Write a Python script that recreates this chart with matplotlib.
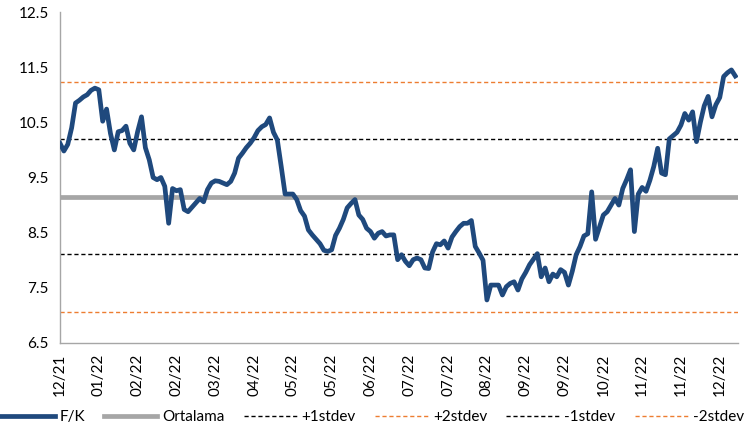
import numpy as np
import matplotlib.pyplot as plt

plt.rcParams['font.family'] = ['Lato', 'DejaVu Sans']

# F/K (günlük, ~175 gözlem)
fk = [10.12, 9.98, 10.10, 10.40, 10.85, 10.90, 10.96, 11.00, 11.08, 11.12,
      11.09, 10.52, 10.74, 10.30, 10.00, 10.33, 10.35, 10.43, 10.12, 10.00,
      10.33, 10.60, 10.04, 9.82, 9.50, 9.46, 9.50, 9.34, 8.67, 9.30,
      9.26, 9.28, 8.92, 8.88, 8.96, 9.04, 9.12, 9.06, 9.28, 9.40,
      9.44, 9.43, 9.40, 9.37, 9.43, 9.58, 9.85, 9.94, 10.04, 10.12,
      10.22, 10.35, 10.42, 10.46, 10.58, 10.32, 10.18, 9.70, 9.20, 9.20,
      9.20, 9.10, 8.90, 8.80, 8.55, 8.46, 8.38, 8.30, 8.18, 8.16,
      8.19, 8.45, 8.58, 8.74, 8.95, 9.03, 9.10, 8.82, 8.74, 8.58,
      8.52, 8.40, 8.49, 8.52, 8.44, 8.46, 8.46, 8.01, 8.10, 7.98,
      7.90, 8.01, 8.04, 8.01, 7.86, 7.85, 8.15, 8.30, 8.28, 8.35,
      8.22, 8.42, 8.52, 8.61, 8.67, 8.67, 8.72, 8.25, 8.13, 8.00,
      7.28, 7.55, 7.55, 7.55, 7.37, 7.52, 7.58, 7.61, 7.46, 7.66,
      7.78, 7.92, 8.02, 8.12, 7.70, 7.86, 7.61, 7.75, 7.70, 7.83,
      7.78, 7.55, 7.80, 8.10, 8.25, 8.44, 8.48, 9.24, 8.38, 8.60,
      8.82, 8.88, 9.00, 9.12, 9.00, 9.30, 9.46, 9.64, 8.52, 9.20,
      9.32, 9.25, 9.45, 9.70, 10.03, 9.58, 9.55, 10.20, 10.26, 10.32,
      10.45, 10.66, 10.54, 10.69, 10.15, 10.50, 10.80, 10.97, 10.60, 10.82,
      10.95, 11.33, 11.40, 11.45, 11.34]

ortalama = 9.15
std = 1.04

tick_labels = ['12/21', '01/22', '02/22', '02/22', '03/22', '04/22', '05/22', '05/22',
               '06/22', '07/22', '07/22', '08/22', '09/22', '09/22', '10/22', '11/22',
               '11/22', '12/22']
tick_step = 10

x = np.arange(len(fk))

fig = plt.figure(figsize=(7.45, 4.26), dpi=100)
ax = fig.add_axes([60 / 745, 1 - 343 / 426, 678 / 745, 331 / 426])

ax.plot(x, fk, color='#1F497D', lw=3.4, label='F/K', zorder=5, solid_joinstyle='round')
ax.axhline(ortalama, color='#A6A6A6', lw=3.4, label='Ortalama', zorder=3)
ax.axhline(ortalama + std, color='black', lw=1.0, ls=(0, (3, 2)), label='+1stdev')
ax.axhline(ortalama + 2 * std, color='#ED7D31', lw=1.0, ls=(0, (3, 2)), label='+2stdev')
ax.axhline(ortalama - std, color='black', lw=1.0, ls=(0, (3, 2)), label='-1stdev')
ax.axhline(ortalama - 2 * std, color='#ED7D31', lw=1.0, ls=(0, (3, 2)), label='-2stdev')

ax.set_xlim(0, 174.7)
ax.set_ylim(6.5, 12.5)
ax.set_yticks(np.arange(6.5, 12.6, 1.0))
ax.set_yticklabels([f'{v:.1f}' for v in np.arange(6.5, 12.6, 1.0)], fontsize=11)
ax.set_xticks(np.arange(len(tick_labels)) * tick_step)
ax.set_xticklabels(tick_labels, rotation=90, fontsize=11)
ax.tick_params(length=0, pad=8)

for side in ['top', 'right']:
    ax.spines[side].set_visible(False)
for side in ['left', 'bottom']:
    ax.spines[side].set_color('#A6A6A6')
    ax.spines[side].set_linewidth(1.0)

fig.legend(loc='lower center', bbox_to_anchor=(0.5, -0.01), ncol=6, frameon=False,
           fontsize=11, handlelength=3.5, columnspacing=1.25, handletextpad=0.3,
           borderpad=0.2, borderaxespad=0.2)

fig.savefig('out.png', dpi=100)
